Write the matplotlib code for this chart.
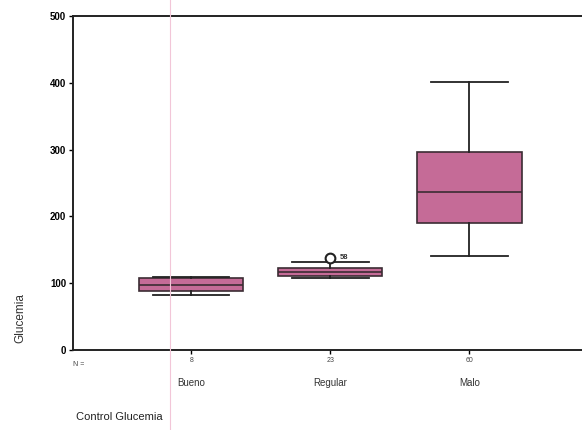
import matplotlib
matplotlib.use("Agg")
import matplotlib.pyplot as plt
from matplotlib.lines import Line2D

# datos
categorias = ["Bueno", "Regular", "Malo"]
n_casos = [8, 23, 60]
q1 = [88, 111, 190]
mediana = [97, 117, 236]
q3 = [108, 123, 297]
bigote_inf = [82, 108, 141]
bigote_sup = [109, 132, 401]
atipicos = [[], [138], []]
etiq_atipico = ["58"]
yticks = [0, 100, 200, 300, 400, 500]

plt.rcParams['font.family'] = ['Liberation Sans', 'DejaVu Sans']

fig = plt.figure(figsize=(5.82, 4.30), dpi=100)
ax = fig.add_axes([0.1254, 0.186, 0.8746, 0.777])

stats = []
for i in range(len(categorias)):
    stats.append({'med': mediana[i], 'q1': q1[i], 'q3': q3[i],
                  'whislo': bigote_inf[i], 'whishi': bigote_sup[i],
                  'fliers': atipicos[i], 'label': categorias[i]})

ax.bxp(stats, positions=[1, 2, 3], widths=0.75, patch_artist=True,
       boxprops=dict(facecolor='#c56b97', edgecolor='#3b2c33', linewidth=1.2),
       medianprops=dict(color='#3b2c33', linewidth=1.2),
       whiskerprops=dict(color='#222222', linewidth=1.3),
       capprops=dict(color='#222222', linewidth=1.3),
       capwidths=0.55,
       flierprops=dict(marker='o', markersize=7, markerfacecolor='white',
                       markeredgecolor='#222222', markeredgewidth=1.5))

# etiqueta del caso atipico
ax.text(2.07, atipicos[1][0], etiq_atipico[0], fontsize=5.5, fontweight='bold',
        va='center', ha='left', color='#333333')

ax.set_xlim(0.15, 3.81)
ax.set_ylim(0, 500)
ax.set_yticks(yticks)
ax.set_yticklabels([str(v) for v in yticks], fontsize=7, fontweight='bold')
ax.set_xticks([1, 2, 3])
ax.set_xticklabels([str(n) for n in n_casos], fontsize=5, color='#444444')
ax.tick_params(axis='x', length=3, width=1, pad=2)
ax.tick_params(axis='y', length=3, width=1, pad=2)
for s in ['left', 'top', 'bottom']:
    ax.spines[s].set_linewidth(1.4)
    ax.spines[s].set_color('#222222')
ax.spines['right'].set_visible(False)

ax.text(0.0, -0.032, "N =", transform=ax.transAxes, fontsize=5,
        color='#444444', ha='left', va='top')
for i, c in enumerate(categorias):
    ax.text(i + 1, -0.085, c, transform=ax.get_xaxis_transform(),
            fontsize=7, color='#333333', ha='center', va='top')

fig.text(0.13, 0.018, "Control Glucemia", fontsize=8, color='#222222',
         ha='left', va='bottom')
fig.text(0.035, 0.26, "Glucemia", fontsize=8.5, color='#333333',
         rotation=90, ha='center', va='center')

# linea rosa vertical del escaneo
fig.add_artist(Line2D([170 / 582, 170 / 582], [0, 1], color='#f2c6d8',
                      linewidth=0.8, transform=fig.transFigure))

fig.savefig("out.png", dpi=100)
plt.close()
